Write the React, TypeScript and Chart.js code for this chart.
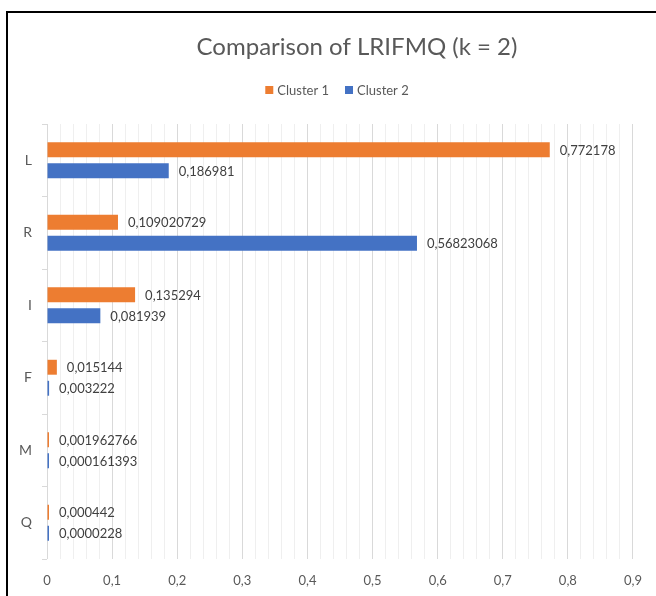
import React, { useEffect, useRef } from "react";
import { Chart, registerables } from "chart.js";

Chart.register(...registerables);

const categories = ["L", "R", "I", "F", "M", "Q"];
const cluster1 = [0.772178, 0.109020729, 0.135294, 0.015144, 0.001962766, 0.000442];
const cluster2 = [0.186981, 0.56823068, 0.081939, 0.003222, 0.000161393, 0.0000228];
const seriesNames = ["Cluster 1", "Cluster 2"];
const seriesColors = ["#ED7D31", "#4472C4"];
const titleText = "Comparison of LRIFMQ (k = 2)";
const axisMin = 0;
const axisMax = 0.9;
const minorStep = 0.02;
const majorEvery = 5;

const FONT = "Lato, 'Open Sans', sans-serif";

const fmt = (v: number) => String(v).replace(".", ",");

const labelPlugin = {
  id: "endLabels",
  afterDatasetsDraw(chart: any) {
    const ctx = chart.ctx;
    ctx.save();
    ctx.font = `13px ${FONT}`;
    ctx.fillStyle = "#404040";
    ctx.textAlign = "left";
    ctx.textBaseline = "middle";
    chart.data.datasets.forEach((ds: any, i: number) => {
      const meta = chart.getDatasetMeta(i);
      meta.data.forEach((el: any, j: number) => {
        ctx.fillText(fmt(ds.data[j]), el.x + 10, el.y + 1);
      });
    });
    ctx.restore();
  },
};

const headerPlugin = {
  id: "header",
  afterDraw(chart: any) {
    const ctx = chart.ctx;
    ctx.save();
    // title
    ctx.font = `24px ${FONT}`;
    ctx.fillStyle = "#595959";
    ctx.textAlign = "center";
    ctx.textBaseline = "middle";
    ctx.fillText(titleText, 357, 47);
    // legend
    ctx.font = `13px ${FONT}`;
    ctx.textAlign = "left";
    const box = 8;
    const gap = 4;
    const itemGap = 16;
    const widths = seriesNames.map((n) => box + gap + ctx.measureText(n).width);
    const total = widths.reduce((a, b) => a + b, 0) + itemGap * (widths.length - 1);
    let x = 337 - total / 2;
    const y = 90;
    seriesNames.forEach((n, i) => {
      ctx.fillStyle = seriesColors[i];
      ctx.fillRect(x, y - box / 2, box, box);
      ctx.fillStyle = "#595959";
      ctx.fillText(n, x + box + gap, y + 1);
      x += widths[i] + itemGap;
    });
    ctx.restore();
  },
};

export default function App() {
  const ref = useRef<HTMLCanvasElement | null>(null);
  useEffect(() => {
    if (!ref.current) return;
    const chart = new Chart(ref.current, {
      type: "bar",
      data: {
        labels: categories,
        datasets: [
          { label: seriesNames[0], data: cluster1, backgroundColor: seriesColors[0], minBarLength: 2 },
          { label: seriesNames[1], data: cluster2, backgroundColor: seriesColors[1], minBarLength: 2 },
        ],
      },
      options: {
        indexAxis: "y",
        responsive: false,
        animation: false,
        categoryPercentage: 0.58,
        barPercentage: 0.71,
        layout: { padding: { top: 124, right: 23, bottom: 0, left: 0 } },
        plugins: {
          legend: { display: false },
          title: { display: false },
          tooltip: { enabled: false },
        },
        scales: {
          x: {
            type: "linear",
            min: axisMin,
            max: axisMax,
            afterFit: (scale: any) => {
              scale.height = 37;
            },
            afterBuildTicks: (scale: any) => {
              const n = Math.round((axisMax - axisMin) / minorStep);
              const t = [];
              for (let i = 0; i <= n; i++) t.push({ value: +(axisMin + i * minorStep).toFixed(4) });
              scale.ticks = t;
            },
            ticks: {
              autoSkip: false,
              maxRotation: 0,
              padding: 14,
              color: "#595959",
              font: { family: FONT, size: 13 },
              callback: (v: any, i: number) => (i % majorEvery === 0 ? fmt(+Number(v).toFixed(1)) : ""),
            },
            grid: {
              drawTicks: false,
              color: (c: any) => (c.index % majorEvery === 0 ? "#d9d9d9" : "#efefef"),
              lineWidth: 1,
            },
            border: { display: false },
          },
          y: {
            type: "category",
            afterFit: (scale: any) => {
              scale.width = 47;
            },
            ticks: {
              padding: 10,
              color: "#595959",
              font: { family: FONT, size: 14 },
            },
            grid: {
              drawOnChartArea: false,
              drawTicks: true,
              tickLength: 5,
              color: "#d9d9d9",
              offset: true,
            },
            border: { display: false },
          },
        },
      },
      plugins: [labelPlugin, headerPlugin],
    });
    return () => chart.destroy();
  }, []);
  return (
    <div style={{ position: "absolute", left: 0, top: 0, width: 656, height: 596, background: "#fff", overflow: "hidden" }}>
      <canvas ref={ref} width={656} height={596} style={{ position: "absolute", left: 0, top: 0 }} />
      <div
        style={{
          position: "absolute",
          left: 6,
          top: 11,
          width: 700,
          height: 700,
          borderLeft: "2px solid #000",
          borderTop: "2px solid #000",
          pointerEvents: "none",
        }}
      />
    </div>
  );
}
